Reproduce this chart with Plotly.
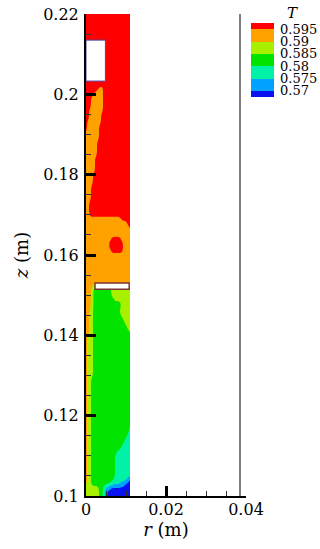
import numpy as np
import plotly.graph_objects as go

# Temperature contour levels and their legend labels
LEVELS = [0.57, 0.575, 0.58, 0.585, 0.59, 0.595]
LEVEL_LABELS = ["0.57", "0.575", "0.58", "0.585", "0.59", "0.595"]

# Band codes -> representative T (centre of each band, below 0.57 ... above 0.595)
BAND_T = {"B": 0.5675, "L": 0.5725, "A": 0.5775, "G": 0.5825,
          "Y": 0.5875, "O": 0.5925, "R": 0.5975}
BAND_ORDER = ["B", "L", "A", "G", "Y", "O", "R"]
BAND_COLORS = ["#0a12f0", "#00a2ff", "#00f2a6", "#00e400",
               "#a6f000", "#ffa200", "#ff0000"]

# Sample nodes: r every 0.5 mm across the channel, z every 1 mm from top to bottom
R_NODES = np.linspace(0.0, 0.011, 23)
Z_NODES = np.linspace(0.22, 0.10, 121)

# Temperature bands along each z row (top -> bottom), as runs of band codes
# across the 23 r nodes: (number of repeated rows, "code+count ...")
ROW_RUNS = [
    (18, "R23"),
    (1, "R8 O1 R14"),
    (1, "R6 O3 R14"),
    (1, "R4 O5 R14"),
    (3, "R3 O6 R14"),
    (1, "R2 O7 R14"),
    (2, "R2 O6 R15"),
    (1, "R1 O7 R15"),
    (2, "R1 O6 R16"),
    (2, "O7 R16"),
    (4, "O6 R17"),
    (4, "O5 R18"),
    (3, "O4 R19"),
    (4, "O3 R20"),
    (4, "O2 R21"),
    (1, "O18 R5"),
    (1, "O21 R2"),
    (1, "O22 R1"),
    (2, "O23"),
    (1, "O13 R5 O5"),
    (2, "O12 R7 O4"),
    (1, "O13 R6 O4"),
    (8, "O23"),
    (1, "O4 G9 Y10"),
    (2, "O3 Y1 G9 Y10"),
    (1, "O3 Y1 G11 Y8"),
    (1, "O3 Y1 G10 Y1 G3 Y5"),
    (1, "O3 Y1 G14 Y5"),
    (1, "O2 Y2 G13 Y6"),
    (1, "O2 Y2 G14 Y5"),
    (1, "O2 Y2 G15 Y4"),
    (1, "O2 Y2 G16 Y3"),
    (1, "O2 Y2 G17 Y2"),
    (1, "O2 Y2 G18 Y1"),
    (1, "O2 Y2 G19"),
    (10, "O1 Y3 G19"),
    (12, "O1 Y2 G20"),
    (2, "O1 Y2 G19 A1"),
    (1, "O1 Y2 G18 A2"),
    (1, "O1 Y2 G17 A3"),
    (1, "O1 Y2 G16 A4"),
    (1, "O1 Y2 G15 A5"),
    (1, "O1 Y2 G13 A7"),
    (6, "O1 Y2 G12 A8"),
    (1, "O1 Y2 G11 A7 L1 B1"),
    (1, "O1 Y2 G10 A5 L2 B3"),
    (1, "Y7 G2 A1 L2 B11"),
    (2, "Y7 G2 A1 L1 B12"),
]

# Solid parts inside the channel (white, outlined)
TOP_BLOCK = dict(r0=0.0, r1=0.00485, z0=0.2033, z1=0.2135, edge="#4a4aa8")
BAFFLE = dict(r0=0.00225, r1=0.0108, z0=0.1515, z1=0.1530, edge="#7a3434")
OUTER_WALL_R = 0.0385


def expand_rows(runs):
    rows = []
    for count, spec in runs:
        row = []
        for tok in spec.split():
            row += [BAND_T[tok[0]]] * int(tok[1:])
        assert len(row) == len(R_NODES), spec
        rows += [row] * count
    assert len(rows) == len(Z_NODES)
    return np.array(rows)


def soften(field):
    # light [1, 2, 1] filter in both directions so band edges come out as curves
    out = field.copy()
    for axis in (0, 1):
        p = np.pad(out, [(1, 1) if a == axis else (0, 0) for a in (0, 1)], mode="edge")
        if axis == 0:
            out = (p[:-2] + 2 * p[1:-1] + p[2:]) / 4
        else:
            out = (p[:, :-2] + 2 * p[:, 1:-1] + p[:, 2:]) / 4
    return out


T = soften(expand_rows(ROW_RUNS))
colorscale = [[i / 6, c] for i, c in enumerate(BAND_COLORS)]

fig = go.Figure()

fig.add_trace(go.Contour(
    x=R_NODES, y=Z_NODES[::-1], z=T[::-1],
    autocontour=False,
    contours=dict(start=LEVELS[0], end=LEVELS[-1], size=0.005,
                  coloring="fill", showlines=False),
    line=dict(width=0, smoothing=1.3),
    colorscale=colorscale, showscale=False, hoverinfo="skip",
))

# Legend swatches: half-height end bands, full bands in between
band_vals = [BAND_T[b] for b in BAND_ORDER]
edges = [BAND_T["B"]] + LEVELS + [BAND_T["R"]]
fig.add_trace(go.Heatmap(
    x=[0, 1], y=edges, z=[[v] for v in band_vals],
    colorscale=colorscale, zmin=band_vals[0], zmax=band_vals[-1],
    showscale=False, hoverinfo="skip", xaxis="x2", yaxis="y2",
))

serif = "DejaVu Serif"
plot_w = 234.0

fig.update_layout(
    width=320, height=549,
    margin=dict(l=86, r=0, t=14, b=53, autoexpand=False),
    paper_bgcolor="white", plot_bgcolor="white",
    font=dict(family=serif, color="black"),
    showlegend=False,
    xaxis=dict(
        domain=[0, 160 / plot_w], range=[0, 0.04],
        tickvals=[0, 0.02, 0.04], ticktext=["0", "0.02", "0.04"],
        ticks="inside", ticklen=10, tickwidth=2.5, tickcolor="black",
        showline=True, linewidth=2, linecolor="black",
        showgrid=False, zeroline=False,
        minor=dict(dtick=0.005, tick0=0, ticks="inside", ticklen=5,
                   tickwidth=1, tickcolor="#333"),
        tickfont=dict(size=16, family=serif),
        ticklabelstandoff=-2,
        automargin=False,
        title=dict(text="<i>r</i> (m)", font=dict(size=18, family=serif), standoff=0),
    ),
    yaxis=dict(
        range=[0.1, 0.22],
        tickvals=[0.1, 0.12, 0.14, 0.16, 0.18, 0.2, 0.22],
        ticktext=["0.1", "0.12", "0.14", "0.16", "0.18", "0.2", "0.22"],
        ticks="inside", ticklen=10, tickwidth=2.5, tickcolor="black",
        showline=True, linewidth=2, linecolor="black",
        showgrid=False, zeroline=False,
        minor=dict(dtick=0.005, tick0=0.1, ticks="inside", ticklen=5,
                   tickwidth=1, tickcolor="#333"),
        tickfont=dict(size=16, family=serif),
        ticklabelstandoff=2,
        automargin=False,
        title=dict(text="<i>z</i> (m)", font=dict(size=18, family=serif), standoff=10),
    ),
    xaxis2=dict(domain=[(251 - 86) / plot_w, (274 - 86) / plot_w], range=[0, 1],
                anchor="y2", showticklabels=False, ticks="", showgrid=False,
                zeroline=False, showline=False, fixedrange=True, automargin=False),
    yaxis2=dict(domain=[(496 - 97) / 482, (496 - 23) / 482],
                range=[edges[0], edges[-1]], anchor="x2", side="right",
                tickvals=LEVELS, ticktext=LEVEL_LABELS, ticks="",
                tickfont=dict(size=13, family=serif), ticklabelstandoff=5,
                automargin=False,
                showgrid=False, zeroline=False, showline=False, fixedrange=True),
    shapes=[
        dict(type="rect", xref="x", yref="y",
             x0=TOP_BLOCK["r0"], x1=TOP_BLOCK["r1"], y0=TOP_BLOCK["z0"], y1=TOP_BLOCK["z1"],
             fillcolor="white", line=dict(color=TOP_BLOCK["edge"], width=1)),
        dict(type="rect", xref="x", yref="y",
             x0=BAFFLE["r0"], x1=BAFFLE["r1"], y0=BAFFLE["z0"], y1=BAFFLE["z1"],
             fillcolor="white", line=dict(color=BAFFLE["edge"], width=1.5)),
        dict(type="line", xref="x", yref="y",
             x0=OUTER_WALL_R, x1=OUTER_WALL_R, y0=0.1, y1=0.22,
             line=dict(color="#555555", width=1.5)),
    ],
    annotations=[
        dict(text="<i>T</i>", xref="paper", yref="paper",
             x=(292 - 86) / plot_w, y=(496 - 13) / 482,
             xanchor="center", yanchor="middle", showarrow=False,
             font=dict(size=15, family=serif)),
    ],
)

fig.write_html("out.html")
